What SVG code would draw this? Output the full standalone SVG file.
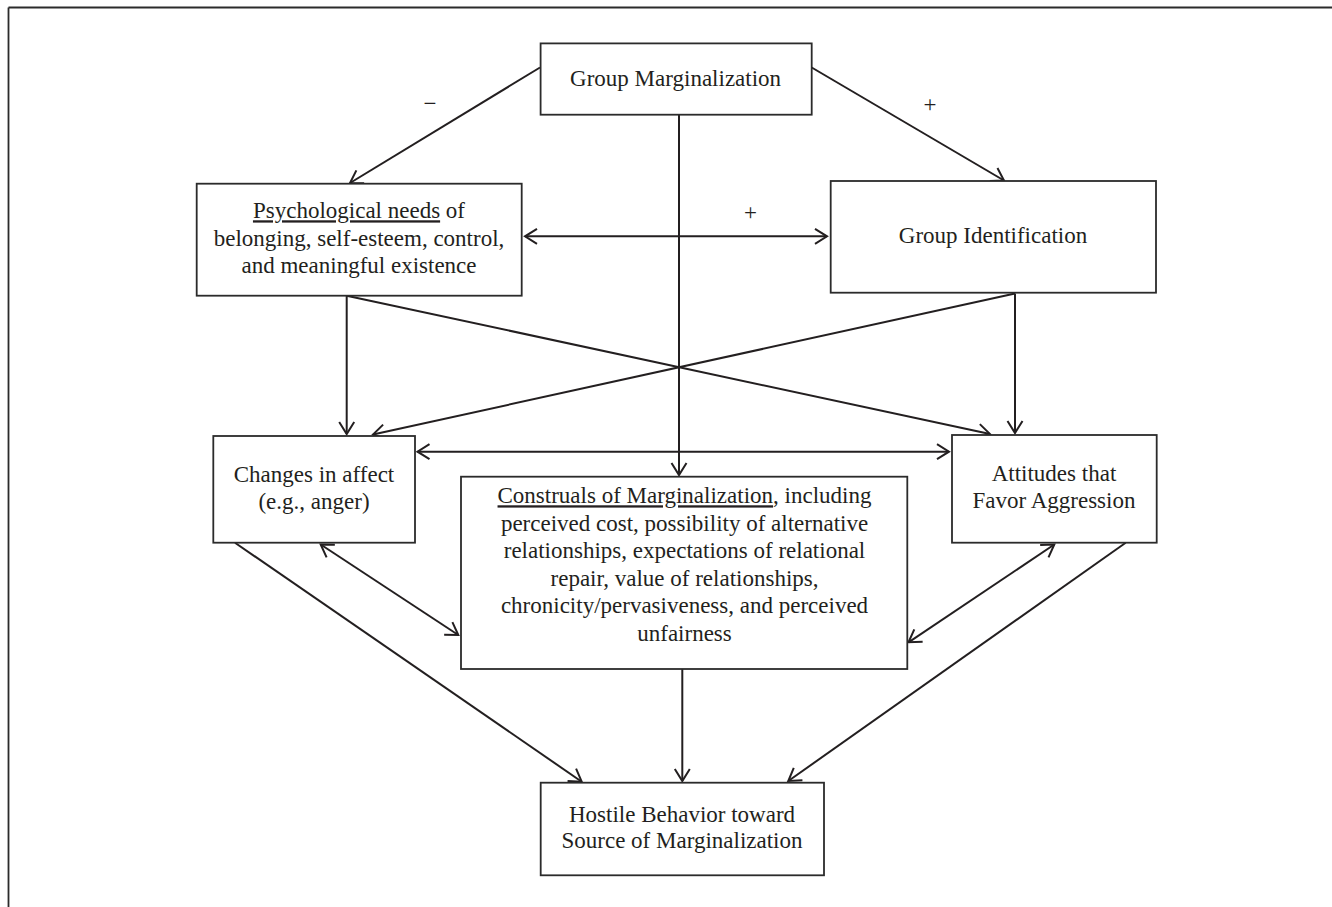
<svg xmlns="http://www.w3.org/2000/svg" width="1332" height="907" viewBox="0 0 1332 907">
<style>
.box{fill:#fff;stroke:#2b2b2b;stroke-width:1.8}
.t{font-family:"Liberation Serif","Times New Roman",serif;font-size:23px;fill:#231f20;text-anchor:middle}
.c{fill:none;stroke:#231f20;stroke-width:2}
.a{marker-end:url(#ah)}
.b{marker-start:url(#ah);marker-end:url(#ah)}
.u{text-decoration:underline}
</style>
<defs>
<marker id="ah" markerUnits="userSpaceOnUse" viewBox="-14 -9 16 18" refX="0" refY="0" markerWidth="16" markerHeight="18" orient="auto-start-reverse">
<path d="M-12,-7.5 L0,0 L-12,7.5" fill="none" stroke="#231f20" stroke-width="2"/>
</marker>
</defs>
<rect width="1332" height="907" fill="#fff"/>
<g id="frame">
<line x1="8.5" y1="7.5" x2="1332" y2="7.5" stroke="#2b2b2b" stroke-width="1.8"/>
<line x1="8.5" y1="7.5" x2="8.5" y2="907" stroke="#2b2b2b" stroke-width="1.8"/>
</g>
<g id="connectors">
<line class="c a" x1="540" y1="67.5" x2="350" y2="183"/>
<line class="c a" x1="811.7" y1="67.5" x2="1004" y2="180.5"/>
<line class="c a" x1="679" y1="114.7" x2="679" y2="475"/>
<line class="c b" x1="525" y1="236.3" x2="827" y2="236.3"/>
<line class="c a" x1="346.7" y1="295.7" x2="346.7" y2="434"/>
<line class="c a" x1="346.7" y1="295.7" x2="990" y2="434"/>
<line class="c a" x1="1015" y1="293.5" x2="373" y2="434.5"/>
<line class="c a" x1="1015" y1="293.5" x2="1015" y2="433"/>
<line class="c b" x1="417.5" y1="451.7" x2="949" y2="451.7"/>
<line class="c a" x1="235" y1="542.7" x2="581.7" y2="781.7"/>
<line class="c b" x1="320.7" y1="544.5" x2="458.3" y2="635"/>
<line class="c a" x1="682.3" y1="669" x2="682.3" y2="781"/>
<line class="c b" x1="1054.3" y1="544.5" x2="908.5" y2="642.3"/>
<line class="c a" x1="1125.7" y1="542.7" x2="788.3" y2="781"/>
<text class="t" x="430" y="111">−</text>
<text class="t" x="930" y="112">+</text>
<text class="t" x="750.4" y="220">+</text>
</g>
<g id="group-marginalization">
<rect class="box" x="540.6" y="43.4" width="271.1" height="71.3"/>
<text class="t" x="675.6" y="85.5">Group Marginalization</text>
</g>
<g id="psychological-needs">
<rect class="box" x="196.7" y="183.7" width="325" height="112"/>
<text class="t" x="359" y="218.3"><tspan class="u">Psychological needs</tspan> of</text>
<text class="t" x="359" y="246">belonging, self-esteem, control,</text>
<text class="t" x="359" y="273.3">and meaningful existence</text>
</g>
<g id="group-identification">
<rect class="box" x="830.7" y="181" width="325.3" height="111.7"/>
<text class="t" x="993" y="242.7">Group Identification</text>
</g>
<g id="changes-in-affect">
<rect class="box" x="213.3" y="436" width="201.7" height="106.7"/>
<text class="t" x="314" y="481.7">Changes in affect</text>
<text class="t" x="314" y="509">(e.g., anger)</text>
</g>
<g id="attitudes">
<rect class="box" x="952" y="435" width="204.7" height="107.7"/>
<text class="t" x="1054" y="480.7">Attitudes that</text>
<text class="t" x="1054" y="508.3">Favor Aggression</text>
</g>
<g id="construals">
<rect class="box" x="461" y="476.7" width="446.3" height="192.3"/>
<text class="t" x="684.5" y="503.3"><tspan class="u">Construals of Marginalization</tspan>, including</text>
<text class="t" x="684.5" y="531">perceived cost, possibility of alternative</text>
<text class="t" x="684.5" y="558.3">relationships, expectations of relational</text>
<text class="t" x="684.5" y="586">repair, value of relationships,</text>
<text class="t" x="684.5" y="613.3">chronicity/pervasiveness, and perceived</text>
<text class="t" x="684.5" y="640.7">unfairness</text>
</g>
<g id="hostile-behavior">
<rect class="box" x="540.7" y="782.7" width="283.3" height="92.6"/>
<text class="t" x="682" y="821.7">Hostile Behavior toward</text>
<text class="t" x="682" y="848.3">Source of Marginalization</text>
</g>
</svg>
